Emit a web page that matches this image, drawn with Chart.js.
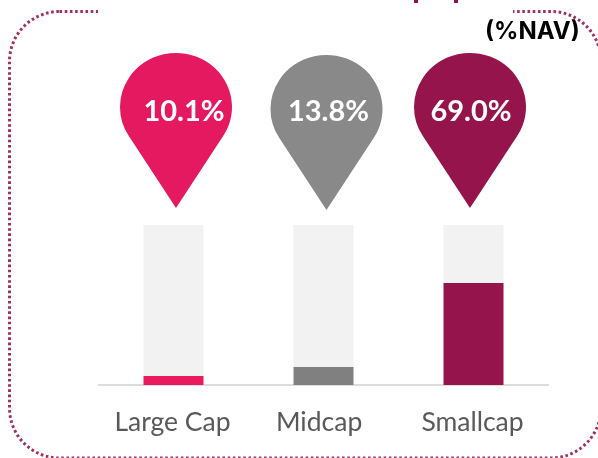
<!DOCTYPE html>
<html>
<head>
<meta charset="utf-8">
<style>
html, body { margin: 0; padding: 0; background: #fff; overflow: hidden; }
canvas { display: block; }
</style>
<script src="https://cdn.jsdelivr.net/npm/chart.js@4/dist/chart.umd.min.js"></script>
</head>
<body>
<canvas id="capChart" width="598" height="458"></canvas>
<script>
const categories = ['Large Cap', 'Midcap', 'Smallcap'];
// bar fill, share of the grey track
const barValues = [5.6, 11.2, 63.8];
const trackValues = [94.4, 88.8, 36.2];
const pinLabels = ['10.1%', '13.8%', '69.0%'];
const pinColors = ['#e5195f', '#898989', '#96144c'];
const barColors = ['#e91a5e', '#808080', '#96144c'];
const pinShiftX = [2.5, 3, -3.5];
const pinShiftY = [0, 2, 0];
const labelShiftX = [8, 2, 1];

// dotted frame and the white title patch behind the chart
const framePlugin = {
    id: 'frame',
    beforeDraw(chart) {
        const c = chart.ctx;
        c.save();
        c.strokeStyle = '#a0305f';
        c.lineWidth = 3;
        c.setLineDash([2.6, 2.6]);
        c.beginPath();
        c.roundRect(9.5, 11.5, 591.5, 446.5, 50);
        c.stroke();
        c.fillStyle = '#fff';
        c.fillRect(98, 0, 415, 43);
        // what is left of the cut off heading
        c.fillStyle = '#96144c';
        c.fillRect(414, 0, 4, 3);
        c.fillRect(454, 0, 4, 3);
        c.restore();
    }
};

// map pins sit above the bars, x comes from the category scale
const pinPlugin = {
    id: 'pins',
    afterDatasetsDraw(chart) {
        const c = chart.ctx;
        const xs = chart.scales.x;
        const r = 56;
        const squash = 54 / 56;
        categories.forEach((cat, i) => {
            const x = xs.getPixelForValue(i) + pinShiftX[i];
            const cy = 107 + pinShiftY[i];
            const tip = 101 / squash;
            const a = Math.asin(r / tip);
            c.save();
            c.save();
            c.translate(x, cy);
            c.scale(1, squash);
            c.fillStyle = pinColors[i];
            c.beginPath();
            c.arc(0, 0, r, a, Math.PI - a, true);
            c.lineTo(0, tip);
            c.closePath();
            c.fill();
            c.restore();
            c.fillStyle = '#fff';
            c.font = 'bold 29px Lato';
            c.textAlign = 'center';
            c.textBaseline = 'alphabetic';
            c.fillText(pinLabels[i], x + labelShiftX[i], 121);
            c.restore();
        });
        c.save();
        c.fillStyle = '#000';
        c.font = 'bold 24px Inter';
        c.textAlign = 'left';
        c.textBaseline = 'alphabetic';
        c.fillText('(%NAV)', 485, 39);
        c.restore();
    }
};

new Chart(document.getElementById('capChart').getContext('2d'), {
    type: 'bar',
    data: {
        labels: categories,
        datasets: [{
            label: 'Share',
            data: barValues,
            backgroundColor: barColors,
            barPercentage: 0.4,
            categoryPercentage: 1
        }, {
            label: 'Track',
            data: trackValues,
            backgroundColor: '#f2f2f2',
            barPercentage: 0.4,
            categoryPercentage: 1
        }]
    },
    options: {
        responsive: false,
        animation: false,
        layout: { padding: { left: 98.5, right: 49.5, top: 225, bottom: 0 } },
        plugins: { legend: { display: false }, tooltip: { enabled: false } },
        scales: {
            x: {
                stacked: true,
                grid: { display: false },
                border: { color: '#dcdcdc', width: 2 },
                afterFit(scale) { scale.height = 73; },
                ticks: {
                    color: '#595959',
                    font: { family: 'Lato', size: 26.5 },
                    padding: 14,
                    maxRotation: 0,
                    labelOffset: -1,
                    // Midcap sits a little left of its bar in the original
                    callback(value, i) { return i === 1 ? categories[i] + ' ' : categories[i]; }
                }
            },
            y: { stacked: true, display: false, min: 0, max: 100 }
        }
    },
    plugins: [framePlugin, pinPlugin]
});
</script>
</body>
</html>
